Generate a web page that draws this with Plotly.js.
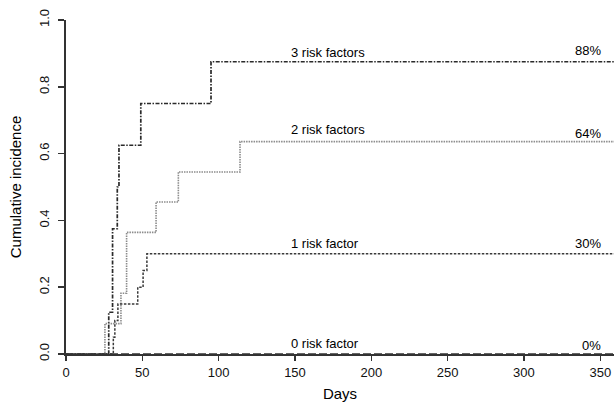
<!DOCTYPE html>
<html>
<head>
<meta charset="utf-8">
<script src="https://cdn.plot.ly/plotly-3.0.1.min.js"></script>
<style>html,body{margin:0;padding:0;background:#fff;}#chart{width:614px;height:404px;}</style>
</head>
<body>
<div id="chart"></div>
<script>
// Data (Kaplan-Meier style step curves)
const days3 = [0, 28, 30.5, 33.6, 34.7, 49, 95, 359];
const inc3  = [0, 0.125, 0.375, 0.5, 0.625, 0.75, 0.875, 0.875];
const days2 = [0, 25.5, 36, 39.7, 59, 73.6, 114, 359];
const inc2  = [0, 0.091, 0.182, 0.364, 0.455, 0.545, 0.636, 0.636];
const days1 = [0, 31, 32, 34, 47, 50.5, 53, 359];
const inc1  = [0, 0.05, 0.1, 0.15, 0.2, 0.25, 0.3, 0.3];
const days0 = [0, 359];
const inc0  = [0, 0];
const groupLabels = ["3 risk factors", "2 risk factors", "1 risk factor", "0 risk factor"];
const pctLabels = ["88%", "64%", "30%", "0%"];
const xTicks = [0, 50, 100, 150, 200, 250, 300, 350];
const yTicks = [0.0, 0.2, 0.4, 0.6, 0.8, 1.0];
const yTickText = ["0.0", "0.2", "0.4", "0.6", "0.8", "1.0"];

const series = [
  {x: days3, y: inc3, color: '#2a2a2a', dash: '4px,1.5px,1.5px,1.5px', width: 1.7},
  {x: days2, y: inc2, color: '#8c8c8c', dash: '1.5px,1px', width: 1.6},
  {x: days1, y: inc1, color: '#3a3a3a', dash: '2.5px,1.5px', width: 1.5},
  {x: days0, y: inc0, color: '#333333', dash: '8px,3px', width: 1.6}
];

const traces = series.map(s => ({
  x: s.x, y: s.y, type: 'scatter', mode: 'lines',
  line: {shape: 'hv', color: s.color, dash: s.dash, width: s.width},
  hoverinfo: 'none', cliponaxis: false
}));

const labelShift = [9, 12, 10, 11];
const pctShift = [11, 8, 10, 9];
const annotations = [];
series.forEach((s, i) => {
  const last = s.y[s.y.length - 1];
  annotations.push({x: 146, y: last, xref: 'x', yref: 'y', text: groupLabels[i],
    showarrow: false, xanchor: 'left', yanchor: 'middle', yshift: labelShift[i],
    font: {family: 'Liberation Sans, Arial, sans-serif', size: 13, color: '#000'}});
  annotations.push({x: 352, y: last, xref: 'x', yref: 'y', text: pctLabels[i],
    showarrow: false, xanchor: 'right', yanchor: 'middle', yshift: pctShift[i],
    font: {family: 'Liberation Sans, Arial, sans-serif', size: 13, color: '#000'}});
});

const layout = {
  width: 614, height: 404,
  margin: {l: 66, r: 0, t: 20, b: 50},
  paper_bgcolor: '#fff', plot_bgcolor: '#fff',
  showlegend: false,
  font: {family: 'Liberation Sans, Arial, sans-serif', size: 13, color: '#111'},
  xaxis: {
    range: [0, 359], showgrid: false, zeroline: false,
    showline: true, linecolor: '#333', linewidth: 2,
    ticks: 'outside', ticklen: 5, tickcolor: '#333', tickwidth: 1.5,
    tickvals: xTicks, ticktext: xTicks.map(String),
    tickfont: {size: 13, color: '#111'},
    title: {text: 'Days', font: {size: 15, color: '#000'}, standoff: 10}
  },
  yaxis: {
    range: [0, 1], showgrid: false, zeroline: false,
    showline: true, linecolor: '#333', linewidth: 2,
    ticks: 'outside', ticklen: 6, tickcolor: '#333', tickwidth: 1.5,
    tickvals: yTicks, ticktext: yTickText, tickangle: -90,
    ticklabelstandoff: 4,
    tickfont: {size: 13, color: '#111'},
    title: {text: 'Cumulative incidence', font: {size: 15, color: '#000'}, standoff: 12}
  },
  annotations: annotations
};

Plotly.newPlot('chart', traces, layout, {staticPlot: true, displayModeBar: false});
</script>
</body>
</html>
